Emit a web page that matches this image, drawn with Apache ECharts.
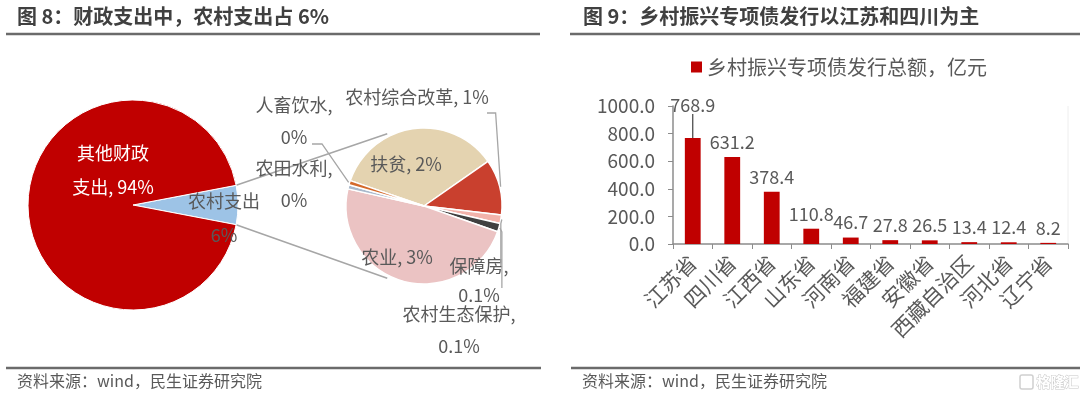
<!DOCTYPE html>
<html>
<head>
<meta charset="utf-8">
<script src="https://cdn.jsdelivr.net/npm/echarts@6/dist/echarts.min.js"></script>
<style>
html,body{margin:0;padding:0;background:#fff;}
#chart{width:1080px;height:396px;}
</style>
</head>
<body>
<div id="chart"></div>
<script>
// ---- data ----
const bigNames = ['农村支出', '其他财政支出'];
const bigValues = [6, 94];
const bigLabels = ['农村支出\n6%', '其他财政\n支出, 94%'];

const smallNames = ['扶贫', '农村综合改革', '保障房', '农村生态保护', '农业', '农田水利', '人畜饮水'];
const smallValues = [2.0, 0.66, 0.1, 0.1, 2.75, 0.05, 0.05];
const smallLabels = ['扶贫, 2%', '农村综合改革, 1%', '保障房,\n0.1%', '农村生态保护,\n0.1%', '农业, 3%', '农田水利,\n0%', '人畜饮水,\n0%'];

const provinces = ['江苏省', '四川省', '江西省', '山东省', '河南省', '福建省', '安徽省', '西藏自治区', '河北省', '辽宁省'];
const issuance = [768.9, 631.2, 378.4, 110.8, 46.7, 27.8, 26.5, 13.4, 12.4, 8.2];
const legendName = '乡村振兴专项债发行总额，亿元';

const title1 = '图 8：财政支出中，农村支出占 6%';
const title2 = '图 9：乡村振兴专项债发行以江苏和四川为主';
const sourceText = '资料来源：wind，民生证券研究院';

// ---- styling / layout ----
const FONT = "'Noto Sans CJK SC', 'Noto Sans', sans-serif";
const GREY = '#595959';
const LEAD = '#A6A6A6';
const bigColors = ['#9DC3E6', '#C00000'];
const smallColors = ['#E4D3B0', '#C9402E', '#F2B3AB', '#404040', '#EBC3C3', '#A9B9CC', '#D4692A'];

const bigC = [133, 205], bigR = 105;
const smallC = [424, 206], smallR = 78;
const smallStart = 161;

const bigSum = bigValues.reduce((a, b) => a + b, 0);
const halfAngle = bigValues[0] / bigSum * 180; // degrees

// label placements (pixel anchors)
const bigLabelPos = [[224, 218], [113, 170]];
const smallLabelPos = [[406, 164], [417, 97], [479, 281], [459, 330], [397, 257], [294, 184], [294, 121]];

function rad(d) { return d * Math.PI / 180; }
const bigTop = [bigC[0] + bigR * Math.cos(rad(halfAngle)), bigC[1] - bigR * Math.sin(rad(halfAngle))];
const bigBot = [bigC[0] + bigR * Math.cos(rad(halfAngle)), bigC[1] + bigR * Math.sin(rad(halfAngle))];
const connA = 117;
const smTop = [smallC[0] + (smallR + 3) * Math.cos(rad(connA)), smallC[1] - (smallR + 3) * Math.sin(rad(connA))];
const smBot = [smallC[0] + (smallR + 3) * Math.cos(rad(connA)), smallC[1] + (smallR + 3) * Math.sin(rad(connA))];

// mid angles of the secondary pie slices (derived from the data)
const smallSum = smallValues.reduce((a, b) => a + b, 0);
const midAngles = [];
(function () {
  let cum = 0;
  smallValues.forEach(v => {
    midAngles.push(smallStart - (cum + v / 2) / smallSum * 360);
    cum += v;
  });
})();
function rim(i, extra) {
  const a = rad(midAngles[i]);
  return [smallC[0] + (smallR + extra) * Math.cos(a), smallC[1] - (smallR + extra) * Math.sin(a)];
}
const r1 = rim(1, 1), r2 = rim(2, 1), r3 = rim(3, 1), r6 = rim(6, 1);
const leaders = [
  [r1, [r1[0] - 5, 113], [487, 113]],
  [r2, [r2[0] - 1, r2[1] + 4], [r2[0] - 1, 266]],
  [r3, [r3[0] + 2, r3[1] + 4], [r3[0] + 2, 288]],
  [r6, [322, 144], [312, 144]]
];

const chart = echarts.init(document.getElementById('chart'), null, {renderer: 'canvas'});

const option = {
  animation: false,
  textStyle: {fontFamily: FONT},
  graphic: [
    {type: 'text', left: 17, top: 6, style: {text: title1, font: 'bold 20px ' + FONT, fill: '#404040'}},
    {type: 'text', left: 583, top: 6, style: {text: title2, font: 'bold 20px ' + FONT, fill: '#404040'}},
    {type: 'line', shape: {x1: 6, y1: 34, x2: 540, y2: 34}, style: {stroke: '#6b6b6b', lineWidth: 2.5}},
    {type: 'line', shape: {x1: 570, y1: 34, x2: 1080, y2: 34}, style: {stroke: '#6b6b6b', lineWidth: 2.5}},
    {type: 'line', shape: {x1: 6, y1: 368, x2: 541, y2: 368}, style: {stroke: '#6b6b6b', lineWidth: 2.5}},
    {type: 'line', shape: {x1: 571, y1: 368, x2: 1080, y2: 368}, style: {stroke: '#6b6b6b', lineWidth: 2.5}},
    {type: 'text', left: 17, top: 373, style: {text: sourceText, font: '16px ' + FONT, fill: GREY}},
    {type: 'text', left: 582, top: 373, style: {text: sourceText, font: '16px ' + FONT, fill: GREY}},
    {type: 'rect', shape: {x: 1020, y: 375, width: 13, height: 14, r: 2}, style: {fill: 'none', stroke: '#d0d0d0', lineWidth: 1.5}},
    {type: 'text', left: 1036, top: 374, style: {text: '格隆汇', font: 'bold 14px ' + FONT, fill: '#ffffff', stroke: '#c8c8c8', lineWidth: 1}},
    {type: 'line', z: 1, shape: {x1: bigTop[0], y1: bigTop[1], x2: smTop[0], y2: smTop[1]}, style: {stroke: LEAD, lineWidth: 1.5}},
    {type: 'line', z: 1, shape: {x1: bigBot[0], y1: bigBot[1], x2: smBot[0], y2: smBot[1]}, style: {stroke: LEAD, lineWidth: 1.5}},
    {type: 'line', shape: {x1: 1068, y1: 106, x2: 1068, y2: 244}, style: {stroke: '#eeeeee', lineWidth: 1}}
  ].concat(leaders.map(pts => ({type: 'polyline', z: 5, shape: {points: pts}, style: {stroke: LEAD, lineWidth: 1.3, fill: null}}))),
  legend: {
    left: 686, top: 52,
    icon: 'rect', itemWidth: 11, itemHeight: 11, itemGap: 10,
    textStyle: {fontSize: 20, color: GREY, fontFamily: FONT},
    data: [legendName]
  },
  grid: {left: 673, right: 12, top: 106, bottom: 152, containLabel: false},
  xAxis: {
    type: 'category',
    data: provinces,
    axisLine: {lineStyle: {color: '#8c8c8c', width: 1.5}},
    axisTick: {show: true, length: 5, alignWithLabel: false, lineStyle: {color: '#8c8c8c'}},
    axisLabel: {rotate: 45, fontSize: 21, color: GREY, margin: 15, interval: 0, fontFamily: FONT}
  },
  yAxis: {
    type: 'value', min: 0, max: 1000, interval: 200,
    axisLine: {show: true, lineStyle: {color: '#8c8c8c', width: 1.5}},
    axisTick: {show: true, length: 5, lineStyle: {color: '#8c8c8c'}},
    splitLine: {show: false},
    axisLabel: {fontSize: 19, color: GREY, margin: 18, formatter: v => v.toFixed(1), fontFamily: FONT}
  },
  series: [
    {
      type: 'pie', name: 'big', center: bigC, radius: bigR,
      startAngle: halfAngle, clockwise: true,
      silent: true,
      itemStyle: {borderColor: '#fff', borderWidth: 1},
      label: {
        show: true, position: 'inside', fontSize: 18, lineHeight: 34,
        formatter: p => bigLabels[p.dataIndex]
      },
      labelLine: {show: false},
      labelLayout: p => ({x: bigLabelPos[p.dataIndex][0], y: bigLabelPos[p.dataIndex][1], align: 'center', verticalAlign: 'middle'}),
      data: bigNames.map((n, i) => ({
        name: n, value: bigValues[i],
        itemStyle: {color: bigColors[i]},
        label: {color: i === 0 ? GREY : '#ffffff'}
      }))
    },
    {
      type: 'pie', name: 'small', center: smallC, radius: smallR,
      startAngle: smallStart, clockwise: true,
      silent: true,
      itemStyle: {borderColor: '#fff', borderWidth: 1.5},
      label: {
        show: true, position: 'inside', fontSize: 18, lineHeight: 32, color: GREY, align: 'center',
        formatter: p => smallLabels[p.dataIndex]
      },
      labelLine: {show: false},
      labelLayout: p => ({x: smallLabelPos[p.dataIndex][0], y: smallLabelPos[p.dataIndex][1], align: 'center', verticalAlign: 'middle'}),
      data: smallNames.map((n, i) => ({
        name: n, value: smallValues[i],
        itemStyle: {color: smallColors[i]},
        label: (i === 2) ? {lineHeight: 29} : {}
      }))
    },
    {
      type: 'bar', name: legendName,
      barWidth: '40%',
      itemStyle: {color: '#C00000'},
      label: {show: true, position: 'top', distance: 6, fontSize: 18, color: GREY, formatter: p => p.value.toFixed(1)},
      labelLayout: p => (p.dataIndex === 0 ? {dy: -18} : {}),
      data: issuance.map((v, i) => i === 0 ? {value: v, labelLine: {show: true, lineStyle: {color: '#404040', width: 1.2}}} : v)
    }
  ]
};
chart.setOption(option);
</script>
</body>
</html>
